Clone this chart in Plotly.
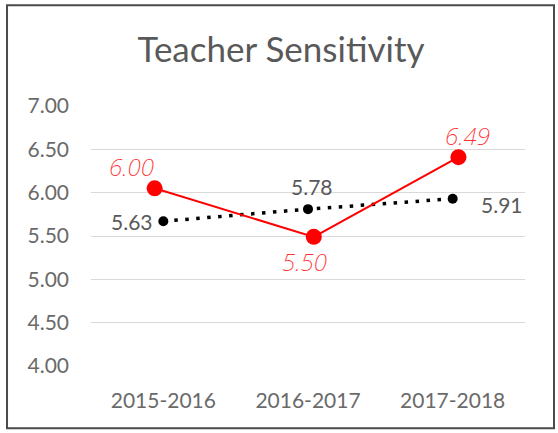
import plotly.graph_objects as go

categories = ["2015-2016", "2016-2017", "2017-2018"]
cat_pos = [0, 1, 2]

# black dotted series (values as placed in the picture) and its labels
black_x = [0, 1, 2]
black_y = [5.67, 5.81, 5.93]
black_labels = ["5.63", "5.78", "5.91"]

# red hand-drawn series and its handwritten labels
red_x = [-0.06, 1.04, 2.04]
red_y = [6.05, 5.49, 6.41]
red_labels = ["6.00", "5.50", "6.49"]

y_ticks = [4.0, 4.5, 5.0, 5.5, 6.0, 6.5, 7.0]

GRAY = "#595959"
TICK_FONT = dict(family="Lato", size=21, color="#6a6a6a")

fig = go.Figure()

fig.add_trace(go.Scatter(
    x=black_x, y=black_y, mode="lines+markers",
    line=dict(color="black", width=3.5, dash="3.5px,7.5px"),
    marker=dict(color="black", size=10),
    hoverinfo="skip", showlegend=False,
))
fig.add_trace(go.Scatter(
    x=red_x, y=red_y, mode="lines+markers",
    line=dict(color="#FF0000", width=2),
    marker=dict(color="#FF0000", size=16),
    hoverinfo="skip", showlegend=False,
))

# black labels: (xanchor, xshift, yshift)
black_place = [("right", -8, 0), ("center", 4, 23), ("left", 26, -6)]
for x, y, t, (xa, xs, ys) in zip(black_x, black_y, black_labels, black_place):
    fig.add_annotation(x=x, y=y, text=t, showarrow=False, xanchor=xa,
                       yanchor="middle", xshift=xs, yshift=ys,
                       font=dict(family="Lato", size=21, color=GRAY))

red_place = [(-23, 22), (-9, -25), (9, 22)]
for x, y, t, (xs, ys) in zip(red_x, red_y, red_labels, red_place):
    fig.add_annotation(x=x, y=y, text=t, showarrow=False, xanchor="center",
                       yanchor="middle", xshift=xs, yshift=ys,
                       font=dict(family="Noto Sans", size=24, color="#FF3030",
                                 weight=200, style="italic"))

# outer frame
fig.add_shape(type="rect", xref="paper", yref="paper",
              x0=-0.1935, x1=1.0668, y0=-0.2396, y1=1.3873,
              line=dict(color="#4a4a4a", width=2), layer="above")

fig.update_layout(
    width=558, height=433,
    margin=dict(l=91, r=33, t=106, b=67, autoexpand=False),
    paper_bgcolor="white", plot_bgcolor="white",
    title=dict(text="Teacher Sensitivity", xref="container", x=0.5036,
               xanchor="center", yref="container", y=1 - 50 / 433,
               yanchor="middle",
               font=dict(family="Lato", size=35, color=GRAY)),
    xaxis=dict(range=[-0.5, 2.5], tickvals=cat_pos, ticktext=categories,
               showgrid=False, zeroline=False, showline=False,
               tickfont=TICK_FONT, ticks="", ticklabelstandoff=20),
    yaxis=dict(range=[4.0, 7.0], tickvals=y_ticks,
               ticktext=[f"{v:.2f}" for v in y_ticks],
               showgrid=True, gridcolor="#D9D9D9", gridwidth=1.3,
               zeroline=False, showline=False, ticks="",
               tickfont=TICK_FONT, ticklabelstandoff=21),
)

fig.write_html("out.html", config={"displayModeBar": False},
               post_script="document.body.style.margin='0';document.body.style.overflow='hidden';")
